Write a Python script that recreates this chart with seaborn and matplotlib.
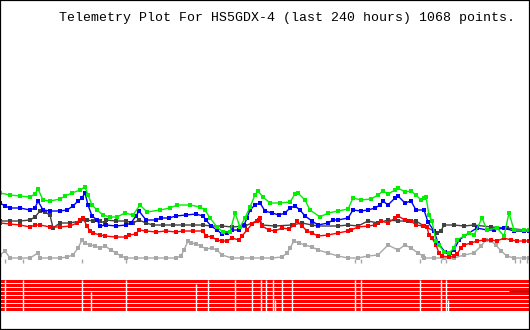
import numpy as np
import pandas as pd
import matplotlib
matplotlib.use("Agg")
import matplotlib.pyplot as plt
import seaborn as sns

# ---- data (x: plot column over the 240 h window, 530 columns; y: level units, larger = higher) ----
TITLE = "Telemetry Plot For HS5GDX-4 (last 240 hours) 1068 points."
WINDOW_HOURS = 240
COLUMNS = 530

green_x = [0,10,20,30,35,38,43,50,60,65,72,80,85,88,92,97,103,110,117,125,133,140,147,160,170,177,190,200,205,210,217,223,230,235,240,245,250,255,258,263,270,280,290,295,298,305,310,320,328,338,348,353,361,371,378,383,388,395,398,405,411,416,421,424,426,429,432,436,439,444,449,454,457,464,469,474,482,487,497,504,509,514,524,529]
green_y = [193,195,196,197,194,189,200,201,199,196,193,190,187,195,205,210,215,217,217,213,215,205,212,210,208,205,205,207,210,218,227,232,232,213,227,218,207,195,191,197,203,203,202,194,193,200,210,217,213,211,209,198,200,199,195,191,194,190,188,192,191,195,200,198,197,215,221,241,245,252,253,248,240,236,233,235,218,230,228,236,213,230,230,230]

blue_x = [0,5,10,20,30,35,38,43,50,60,67,73,78,82,85,88,92,97,100,106,116,126,131,136,139,146,156,161,169,176,186,196,203,206,211,217,222,227,232,239,244,247,250,255,260,265,272,279,285,290,295,300,305,312,318,328,333,338,348,353,361,368,375,380,383,388,395,398,405,411,416,424,428,434,438,445,450,454,459,469,477,487,494,504,514,524,529]
blue_y = [203,206,208,208,210,208,201,210,211,211,210,206,201,198,193,205,216,220,226,225,226,225,223,216,211,220,220,218,218,216,215,214,216,220,226,230,234,233,230,230,225,218,210,205,203,211,213,215,213,208,206,210,216,221,225,223,220,220,218,210,211,210,208,205,201,205,198,196,203,201,210,210,222,231,243,252,253,250,240,233,228,230,230,228,231,231,231]

black_x = [0,10,20,30,35,40,45,50,53,60,70,80,87,93,100,105,106,116,126,133,139,146,153,163,173,183,193,203,211,222,232,245,259,262,275,292,302,312,318,338,348,358,368,378,388,398,408,416,424,434,437,441,444,454,464,474,491,507,524,529]
black_y = [221,221,221,220,217,211,212,215,228,223,223,221,220,221,221,223,220,221,221,223,220,223,225,225,225,225,225,225,226,226,227,226,220,225,226,225,223,225,226,226,225,226,221,223,220,221,221,221,226,231,233,231,225,225,226,225,227,228,230,230]

red_x = [0,10,20,30,35,40,50,60,70,77,80,83,87,90,93,100,105,116,126,129,136,139,146,156,166,176,183,193,203,206,212,217,222,227,232,239,242,247,252,257,260,262,269,275,282,289,294,297,302,307,312,318,328,338,348,351,358,368,375,381,388,395,398,405,411,416,423,427,429,432,436,439,442,449,454,457,461,464,471,477,484,491,497,504,511,517,524,529]
red_y = [223,224,225,227,225,225,227,227,226,223,220,218,226,231,233,235,236,237,237,235,234,230,231,232,231,232,231,231,231,236,237,240,241,241,238,240,236,230,224,221,218,226,230,231,228,229,225,221,226,231,233,236,235,233,231,230,227,226,225,221,223,218,216,220,221,225,226,227,235,238,245,253,256,257,256,254,248,245,243,241,240,240,241,238,240,241,241,241]

gray_x = [0,5,10,20,30,38,40,50,60,67,73,78,82,85,90,95,100,105,111,116,121,126,136,146,156,166,176,181,184,188,191,196,201,206,212,217,222,232,242,252,262,272,282,287,290,294,299,305,312,318,328,338,348,358,368,378,388,398,405,411,418,423,424,434,444,454,464,474,481,486,491,496,501,507,514,524,529]
gray_y = [255,251,258,258,258,253,258,258,258,257,255,248,240,243,245,246,248,246,250,253,256,258,258,258,258,258,258,256,250,241,243,244,246,249,248,250,255,258,258,258,258,258,257,253,248,241,243,245,247,250,253,256,258,258,256,255,245,250,245,248,253,256,258,258,258,258,255,253,246,240,241,245,251,256,258,258,258]

# gray drop-outs drawn at the data gaps
gap_mark_x = [5,23,82,126,355,361,420,441,446,515,520,527]
gap_mark_y = [261]*len(gap_mark_x)

# status bits: 8 rows, columns where a bit is off (white)
bit_names = ["b1","b2","b3","b4","b5","b6","b7","b8"]
gaps_all = [5,23,82,126,208,235,252,261,266,273,282,292,355,361,420,441,446]
gaps_partial = [(91, 3), (196, 1), (275, 5), (448, 5)]   # (column, first row that is off)
dark_seg = (509, 530, 291)

series = {"green": (green_x, green_y), "blue": (blue_x, blue_y),
          "black": (black_x, black_y), "red": (red_x, red_y), "gray": (gray_x, gray_y)}
palette = {"green": "#00f000", "blue": "#0000ff", "black": "#404040",
           "red": "#ff0000", "gray": "#a8a8a8"}

H = 330
to_hours = WINDOW_HOURS / COLUMNS

frames = []
for name, (xs, ys) in series.items():
    frames.append(pd.DataFrame({"hours": np.array(xs) * to_hours,
                                "level": H - np.array(ys), "series": name}))
df = pd.concat(frames, ignore_index=True)

sns.set_style("white")
fig = plt.figure(figsize=(5.3, 3.3), dpi=100)
ax = fig.add_axes([0, 0, 1, 1])

# bits
row_top, row_pitch, row_h = 280, 4, 3
for i, b in enumerate(bit_names):
    top = row_top + i * row_pitch
    ax.barh(H - top - row_h / 2, WINDOW_HOURS, left=0, height=row_h,
            color="#ff0000", linewidth=0)
for g in gaps_all:
    ax.vlines(g * to_hours, H - (row_top + 8 * row_pitch), H - row_top + 0.5,
              color="white", linewidth=1.0)
for g, r in gaps_partial:
    ax.vlines(g * to_hours, H - (row_top + 8 * row_pitch), H - (row_top + r * row_pitch) + 0.5,
              color="white", linewidth=1.0)
ax.hlines(H - dark_seg[2], dark_seg[0] * to_hours, dark_seg[1] * to_hours,
          color="#404040", linewidth=1.0)

ax.scatter(np.array(gap_mark_x) * to_hours, H - np.array(gap_mark_y),
           marker="|", s=10, color="#a8a8a8", linewidth=1)

order = ["gray", "black", "red", "blue", "green"]
for name in order:
    sub = df[df.series == name]
    sns.lineplot(data=sub, x="hours", y="level", color=palette[name], ax=ax,
                 estimator=None, sort=False, linewidth=1.0,
                 marker="s", markersize=2.6, markeredgewidth=0, legend=False)

ax.set_xlim(0, WINDOW_HOURS)
ax.set_ylim(0, H)
ax.set_xticks([]); ax.set_yticks([])
ax.set_xlabel(""); ax.set_ylabel("")
for s in ax.spines.values():
    s.set_visible(True)
    s.set_color("black")
    s.set_linewidth(1.6)

fig.text(0.542, 0.945, TITLE, ha="center", va="center",
         family=["Liberation Mono", "DejaVu Sans Mono"], fontsize=9.5, color="black")

fig.savefig("out.png", dpi=100, facecolor="white")
